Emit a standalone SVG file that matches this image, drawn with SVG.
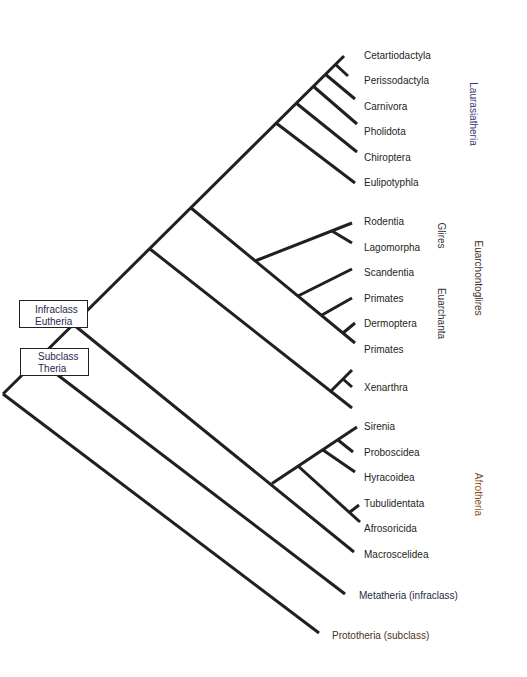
<svg xmlns="http://www.w3.org/2000/svg" width="527" height="677" viewBox="0 0 527 677">
<style>
.ln{stroke:#231f20;stroke-width:3;fill:none;stroke-linecap:butt}
.t{font-family:"Liberation Sans",Arial,sans-serif;font-size:10px;fill:#231f20}
.box{fill:#ffffff;stroke:#231f20;stroke-width:1}
</style>
<rect x="0" y="0" width="527" height="677" fill="#ffffff"/>
<g id="connectors">
<path class="ln" d="M3,394 L319,633"/>
<path class="ln" d="M3,394 L344,56"/>
<path class="ln" d="M38,360 L345,594"/>
<path class="ln" d="M74,325 L354,552"/>
<path class="ln" d="M272,483.5 L357,427"/>
<path class="ln" d="M338,440 L353,452"/>
<path class="ln" d="M323,450 L355,472"/>
<path class="ln" d="M298,466 L360,522"/>
<path class="ln" d="M350,512 L359,505"/>
<path class="ln" d="M150,249 L352,408"/>
<path class="ln" d="M331,391 L352,370"/>
<path class="ln" d="M343,379 L352,387"/>
<path class="ln" d="M191,208 L355,343"/>
<path class="ln" d="M255,261 L352,223"/>
<path class="ln" d="M332,231 L352,243"/>
<path class="ln" d="M298,296 L352,269"/>
<path class="ln" d="M322,315 L352,298"/>
<path class="ln" d="M343,333 L355,323"/>
<path class="ln" d="M276,123 L355,183"/>
<path class="ln" d="M296,103 L357,152"/>
<path class="ln" d="M313,86 L357,124"/>
<path class="ln" d="M325,74 L355,99"/>
<path class="ln" d="M335,64 L348,76"/>
</g>
<g id="eutheria">
<rect class="box" x="19.5" y="300.5" width="68" height="27"/>
<text class="t" x="35" y="313" fill="#2a2850" style="fill:#2a2850">Infraclass</text>
<text class="t" x="35" y="325" style="fill:#2a2850">Eutheria</text>
</g>
<g id="theria">
<rect class="box" x="20.5" y="348.5" width="68" height="27"/>
<text class="t" x="38" y="360" style="fill:#2a2850">Subclass</text>
<text class="t" x="38" y="372" style="fill:#2a2850">Theria</text>
</g>
<g id="laurasiatheria">
<text class="t" x="364" y="58.5">Cetartiodactyla</text>
<text class="t" x="364" y="84">Perissodactyla</text>
<text class="t" x="364" y="109.5">Carnivora</text>
<text class="t" x="364" y="135">Pholidota</text>
<text class="t" x="364" y="160.5">Chiroptera</text>
<text class="t" x="364" y="186">Eulipotyphla</text>
<text class="t" transform="translate(469.5,114) rotate(90)" text-anchor="middle" style="fill:#3b3476">Laurasiatheria</text>
</g>
<g id="euarchontoglires">
<text class="t" x="364" y="225">Rodentia</text>
<text class="t" x="364" y="250.5">Lagomorpha</text>
<text class="t" x="364" y="276">Scandentia</text>
<text class="t" x="364" y="301.5">Primates</text>
<text class="t" x="364" y="327">Dermoptera</text>
<text class="t" x="364" y="352.5">Primates</text>
<text class="t" transform="translate(437.5,235.5) rotate(90)" text-anchor="middle" style="fill:#333333">Glires</text>
<text class="t" transform="translate(437.5,313.5) rotate(90)" text-anchor="middle" style="fill:#333333">Euarchanta</text>
<text class="t" transform="translate(475,278) rotate(90)" text-anchor="middle" style="fill:#3f2f28">Euarchontoglires</text>
</g>
<g id="xenarthra">
<text class="t" x="364" y="390.5">Xenarthra</text>
</g>
<g id="afrotheria">
<text class="t" x="364" y="430">Sirenia</text>
<text class="t" x="364" y="455.5">Proboscidea</text>
<text class="t" x="364" y="481">Hyracoidea</text>
<text class="t" x="364" y="506.5">Tubulidentata</text>
<text class="t" x="364" y="532">Afrosoricida</text>
<text class="t" x="364" y="557.5">Macroscelidea</text>
<text class="t" transform="translate(475,494.5) rotate(90)" text-anchor="middle" style="fill:#8a4b1a">Afrotheria</text>
</g>
<g id="metatheria">
<text class="t" x="359" y="598.5" style="fill:#262a45">Metatheria (infraclass)</text>
</g>
<g id="prototheria">
<text class="t" x="332" y="638.5" style="fill:#4a3322">Prototheria (subclass)</text>
</g>
</svg>
